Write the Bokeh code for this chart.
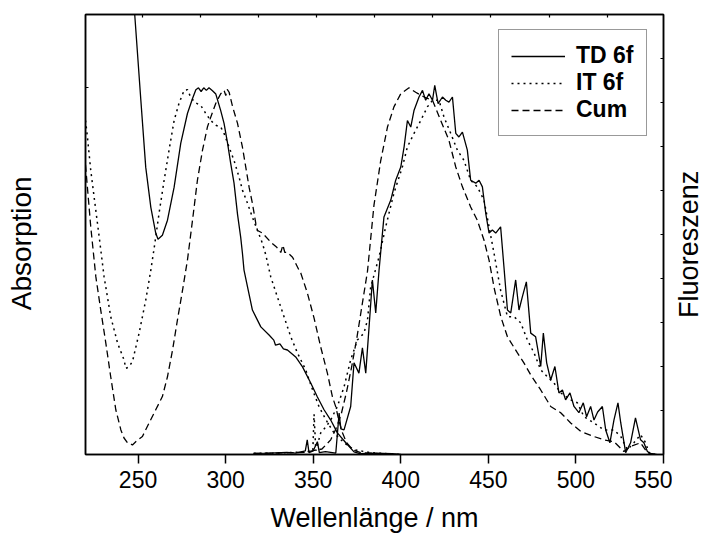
import math
from bokeh.plotting import figure
from bokeh.layouts import row
from bokeh.models import Range1d, LinearAxis, FixedTicker, Legend, LegendItem, Label
from bokeh.embed import file_html
from bokeh.resources import INLINE

FONT = "Liberation Sans"

# ---- data (normalised intensities) ----
wl_td_abs = [244, 246, 248.1, 251.6, 254.4, 257.3, 260.1, 261.4, 263.9, 266.8, 270.6, 274.4, 278.2, 281.1,
             283.0, 284.5, 286.0, 287.5, 289.0, 290.5, 292.5, 294.4, 297.2, 299.1, 301.1, 302.9, 304.8,
             306.8, 308.6, 309.6, 310.5, 312.5, 315.3, 320.1, 324.8, 327.5, 328.5, 331.0, 333.0, 335.3,
             340.0, 343.9, 348.6, 352.4, 356.2, 360.0, 363.8, 368.6, 373.3, 377.1, 385, 395, 400]
td_abs = [1.5, 1.36, 1.2, 0.966, 0.783, 0.674, 0.604, 0.587, 0.598, 0.639, 0.729, 0.849, 0.930, 0.971,
          0.995, 1.0, 0.99, 1.0, 0.993, 1.0, 0.992, 0.983, 0.938, 0.903, 0.849, 0.794, 0.740,
          0.655, 0.593, 0.549, 0.503, 0.457, 0.394, 0.348, 0.326, 0.312, 0.298, 0.302, 0.288, 0.285,
          0.266, 0.239, 0.195, 0.157, 0.122, 0.094, 0.059, 0.032, 0.007, 0.002, 0.004, 0.002, 0.0]

wl_it_abs = [220, 221.1, 223.0, 224.9, 227.8, 230.6, 234.4, 238.3, 242.0, 243.0, 244.5, 246.8, 250.6,
             254.4, 257.3, 259.2, 262.0, 264.9, 267.7, 270.6, 273.4, 276.3, 278.2, 280.0, 282.5, 285.8,
             288.7, 291.5, 294.4, 297.2, 299.1, 302.0, 304.8, 307.7, 309.6, 312.5, 315.3, 318.2, 321.0,
             322.9, 325.8, 329.6, 333.4, 337.2, 341.0, 345.7, 349.6, 353.3, 357.2, 361.9, 367.6, 373.3,
             382.8, 390, 400]
it_abs = [0.911, 0.866, 0.775, 0.703, 0.594, 0.485, 0.376, 0.304, 0.258, 0.235, 0.238, 0.253, 0.331,
          0.421, 0.503, 0.563, 0.658, 0.748, 0.830, 0.911, 0.958, 0.993, 0.995, 0.975, 0.960, 0.952,
          0.930, 0.911, 0.898, 0.893, 0.876, 0.838, 0.802, 0.756, 0.721, 0.685, 0.647, 0.611, 0.576,
          0.545, 0.484, 0.429, 0.375, 0.321, 0.277, 0.231, 0.177, 0.131, 0.095, 0.059, 0.032, 0.013,
          0.005, 0.003, 0.0]

wl_cum_abs = [220, 223.0, 225.9, 228.7, 231.6, 234.4, 237.3, 240.2, 242.0, 244.0, 244.9, 246.8, 248.7,
              252.5, 256.3, 260.1, 263.9, 266.8, 269.7, 272.5, 275.4, 278.2, 281.1, 283.9, 286.8, 289.6,
              291.5, 294.4, 297.2, 299.1, 300.1, 300.9, 302.0, 303.9, 306.8, 309.6, 311.5, 313.4, 315.3,
              317.2, 318.2, 321.0, 325.8, 329.2, 331.5, 332.7, 333.8, 335.3, 338.2, 339.1, 341.9, 342.9,
              346.7, 350.5, 354.3, 358.1, 361.0, 362.9, 364.6, 366.7, 369.1, 372.6, 377.1, 385, 395]
cum_abs = [0.79, 0.621, 0.485, 0.394, 0.304, 0.212, 0.122, 0.067, 0.045, 0.032, 0.031, 0.026, 0.035,
           0.049, 0.086, 0.122, 0.158, 0.212, 0.285, 0.367, 0.448, 0.530, 0.639, 0.748, 0.830, 0.893,
           0.920, 0.958, 0.984, 0.993, 0.979, 0.996, 0.988, 0.950, 0.903, 0.838, 0.784, 0.729, 0.685,
           0.631, 0.611, 0.604, 0.579, 0.565, 0.551, 0.571, 0.551, 0.551, 0.538, 0.530, 0.503, 0.495,
           0.440, 0.372, 0.293, 0.222, 0.157, 0.130, 0.094, 0.059, 0.032, 0.013, 0.005, 0.003, 0.0]

wl_td_fl = [316, 325, 335, 340, 345.5, 346.6, 347.6, 350, 352.4, 353.5, 357, 362.9, 364.8, 365.8, 367.6,
            371.4, 373.3, 376.1, 378.1, 380.0, 381.9, 383.8, 385.7, 387.6, 390.4, 394.3, 397.1, 400.0,
            401.9, 403.8, 405.7, 407.6, 410.4, 412.4, 414.2, 416.1, 418.1, 419.4, 421.3, 423.8, 425.7,
            427.5, 429.5, 431.4, 433.2, 435.2, 438.0, 439.9, 442.8, 444.7, 446.6, 448.5, 450.4, 452.3,
            454.2, 457.0, 458.9, 460.9, 462.8, 465.6, 467.5, 469.4, 471.7, 474.2, 477.0, 479.9, 481.4,
            483.3, 485.6, 488.0, 490.3, 492.3, 494.1, 496.6, 498.9, 501.7, 504.2, 506.1, 508.4, 510.3,
            512.4, 515.1, 517.0, 519.4, 521.7, 524.0, 525.6, 528.4, 531.2, 534.0, 536.9, 538.8, 540.8,
            542.7, 546]
td_fl = [0.003, 0.004, 0.006, 0.004, 0.01, 0.04, 0.005, 0.01, 0.035, 0.005, 0.008, 0.004, 0.113, 0.07,
         0.067, 0.131, 0.25, 0.222, 0.291, 0.222, 0.348, 0.476, 0.386, 0.503, 0.648, 0.694, 0.748, 0.784,
         0.839, 0.911, 0.893, 0.939, 0.975, 0.993, 0.966, 0.984, 0.966, 1.007, 0.957, 0.975, 0.966,
         0.961, 0.975, 0.876, 0.866, 0.879, 0.830, 0.748, 0.740, 0.748, 0.730, 0.658, 0.604, 0.612,
         0.604, 0.621, 0.512, 0.394, 0.386, 0.476, 0.394, 0.430, 0.471, 0.331, 0.321, 0.240, 0.331,
         0.250, 0.203, 0.240, 0.168, 0.176, 0.149, 0.168, 0.131, 0.114, 0.141, 0.103, 0.131, 0.094,
         0.116, 0.131, 0.067, 0.032, 0.094, 0.141, 0.086, 0.005, 0.032, 0.100, 0.040, 0.032, 0.008,
         0.002, 0.0]

wl_it_fl = [316, 330, 340, 346, 349.8, 350.5, 351.5, 354.3, 357.2, 360.0, 363.8, 367.6, 371.4, 375.2,
            379.0, 381.0, 382.8, 387.6, 391.4, 396.1, 400.9, 403.8, 407.6, 411.4, 415.2, 418.1, 421.8,
            424.7, 428.5, 432.3, 436.1, 439.9, 443.7, 447.5, 450.4, 453.2, 457.0, 460.9, 464.6, 468.5,
            472.3, 476.1, 479.9, 483.7, 487.5, 491.3, 497.0, 500.8, 504.6, 510.3, 516.0, 521.7, 525.6,
            529.4, 533.1, 536.9, 539.8, 541.7, 545]
it_fl = [0.003, 0.004, 0.006, 0.008, 0.01, 0.11, 0.01, 0.059, 0.075, 0.094, 0.131, 0.184, 0.258, 0.312,
         0.331, 0.367, 0.456, 0.539, 0.621, 0.713, 0.784, 0.839, 0.876, 0.911, 0.948, 0.966, 0.966,
         0.920, 0.876, 0.830, 0.802, 0.748, 0.730, 0.694, 0.621, 0.55, 0.448, 0.376, 0.376, 0.359,
         0.312, 0.277, 0.231, 0.212, 0.195, 0.168, 0.149, 0.141, 0.103, 0.086, 0.067, 0.067, 0.049,
         0.013, 0.032, 0.054, 0.032, 0.005, 0.0]

wl_cum_fl = [316, 330, 345, 355, 360, 363, 366, 369, 372, 375, 378, 381, 384.7, 388.5, 392.4, 396.1,
             400.0, 404.7, 408.5, 413.3, 418.1, 422.8, 427.5, 431.4, 435.2, 439.9, 443.7, 447.5, 450.4,
             453.5, 457.1, 460.9, 466.6, 470.3, 474.2, 479.9, 485.6, 491.3, 497.0, 502.7, 510.3, 516.0,
             521.7, 527.4, 531.2, 536.9, 540.8, 545]
cum_fl = [0.003, 0.004, 0.006, 0.015, 0.04, 0.07, 0.11, 0.17, 0.24, 0.32, 0.41, 0.50, 0.68, 0.80, 0.893,
          0.948, 0.984, 1.0, 0.988, 0.975, 0.966, 0.911, 0.857, 0.784, 0.730, 0.675, 0.639, 0.585, 0.53,
          0.45, 0.376, 0.321, 0.277, 0.250, 0.217, 0.176, 0.131, 0.114, 0.086, 0.063, 0.049, 0.040,
          0.035, 0.008, 0.022, 0.032, 0.005, 0.0]

x_ticks = [250, 300, 350, 400, 450, 500, 550]
series_labels = ["TD 6f", "IT 6f", "Cum"]
x_title = "Wellenlänge / nm"
y_title_left = "Absorption"
y_title_right = "Fluoreszenz"

H = 535
LEFT_W, MID_W, RIGHT_W = 40, 632, 32


def side_panel(width, text, x_frac, y_frac, size):
    f = figure(width=width, height=H, x_range=Range1d(0, 1), y_range=Range1d(0, 1),
               output_backend="svg", toolbar_location=None,
               x_axis_location=None, y_axis_location=None, min_border=0)
    f.outline_line_color = None
    f.xgrid.visible = False
    f.ygrid.visible = False
    f.background_fill_color = "white"
    f.border_fill_color = "white"
    f.add_layout(Label(x=x_frac, y=y_frac, text=text, angle=math.pi / 2,
                       text_align="center", text_baseline="middle", text_font=FONT,
                       text_font_size=size, text_color="black"))
    return f


# ---- main figure ----
p = figure(width=MID_W, height=H, x_range=Range1d(220, 550), y_range=Range1d(0, 1.2),
           output_backend="svg", toolbar_location=None,
           x_axis_location=None, y_axis_location=None,
           min_border_left=45, min_border_right=9, min_border_top=14, min_border_bottom=80)
p.xgrid.visible = False
p.ygrid.visible = False
p.outline_line_color = "black"
p.outline_line_width = 1.5
p.background_fill_color = "white"
p.border_fill_color = "white"
p.extra_x_ranges = {"top": Range1d(0.02, 9.97)}
p.extra_y_ranges = {"right": Range1d(0, 10)}


def style_hidden(ax):
    ax.major_tick_in = 3
    ax.major_tick_out = 0
    ax.minor_tick_in = 0
    ax.minor_tick_out = 0
    ax.major_label_text_font_size = "0px"
    ax.major_label_text_color = None
    ax.major_label_standoff = 0
    ax.axis_line_color = "black"
    ax.axis_line_width = 1.5
    ax.major_tick_line_color = "black"
    ax.major_tick_line_width = 1.2


xb = LinearAxis(ticker=FixedTicker(ticks=x_ticks), axis_label=x_title)
xb.major_tick_out = 9
xb.major_tick_in = 0
xb.major_tick_line_width = 1.5
xb.major_tick_line_color = "black"
xb.axis_line_width = 1.5
xb.axis_line_color = "black"
xb.major_label_text_font = FONT
xb.major_label_text_font_size = "23px"
xb.major_label_text_color = "black"
xb.major_label_standoff = 7
xb.axis_label_text_font = FONT
xb.axis_label_text_font_size = "27px"
xb.axis_label_text_font_style = "normal"
xb.axis_label_text_color = "black"
xb.axis_label_standoff = 12
p.add_layout(xb, "below")

yl = LinearAxis(ticker=FixedTicker(ticks=[0, 1]))
style_hidden(yl)
p.add_layout(yl, "left")

xt = LinearAxis(x_range_name="top", ticker=FixedTicker(ticks=[1, 2, 3, 4, 5, 6, 7, 8, 9]))
style_hidden(xt)
p.add_layout(xt, "above")

yr = LinearAxis(y_range_name="right", ticker=FixedTicker(ticks=[1, 2, 3, 4, 5, 6, 7, 8, 9]))
style_hidden(yr)
p.add_layout(yr, "right")

# ---- curves ----
solid = dict(line_color="black", line_width=1.3)
dotted = dict(line_color="black", line_width=1.5, line_dash="2 4")
dashed = dict(line_color="black", line_width=1.3, line_dash="7 4")

r_td = p.line(wl_td_abs, td_abs, **solid)
p.line(wl_td_fl, td_fl, **solid)
r_it = p.line(wl_it_abs, it_abs, **dotted)
p.line(wl_it_fl, it_fl, **dotted)
r_cum = p.line(wl_cum_abs, cum_abs, **dashed)
p.line(wl_cum_fl, cum_fl, **dashed)

legend = Legend(items=[LegendItem(label=series_labels[0], renderers=[r_td]),
                       LegendItem(label=series_labels[1], renderers=[r_it]),
                       LegendItem(label=series_labels[2], renderers=[r_cum])],
                location=(413, 318), label_text_font=FONT, label_text_font_size="23px",
                label_text_font_style="bold", label_text_color="black",
                glyph_width=54, glyph_height=26, label_height=26,
                label_standoff=11, spacing=0, padding=12, margin=0,
                border_line_color="#333333", border_line_width=1,
                background_fill_color="white", background_fill_alpha=1)
p.add_layout(legend)

left_panel = side_panel(LEFT_W, y_title_left, 0.53, 0.480, "28px")
right_panel = side_panel(RIGHT_W, y_title_right, 0.5, 0.4776, "27px")

layout = row(left_panel, p, right_panel, spacing=0)
open("out.html", "w").write(file_html(layout, INLINE))
